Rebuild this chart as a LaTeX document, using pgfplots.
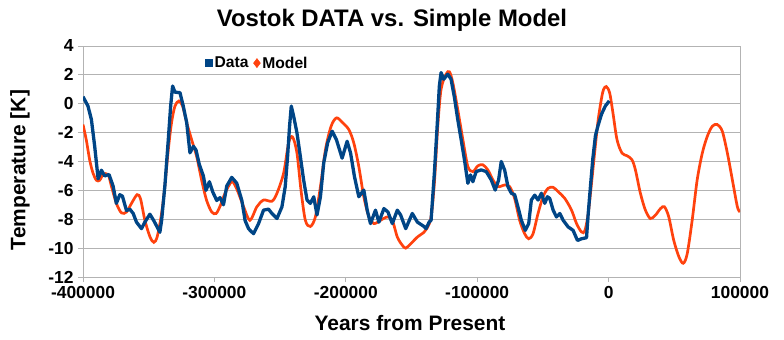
\documentclass[border=0pt]{standalone}
\usepackage{pgfplots}
\pgfplotsset{compat=1.18}
\usepackage{fontspec}
\setmainfont{Liberation Sans}
\definecolor{datablue}{HTML}{004586}
\definecolor{modelred}{HTML}{FF420E}
\definecolor{gridgray}{HTML}{B3B3B3}
\begin{document}
\begin{tikzpicture}
\useasboundingbox (0,0) rectangle (784bp,340bp);
\begin{axis}[
  at={(83bp,63bp)}, anchor=south west,
  width=657bp, height=231bp, scale only axis,
  xmin=-400000, xmax=100000, ymin=-12, ymax=4,
  xtick={-400000,-300000,...,100000},
  ytick={-12,-10,...,4},
  scaled ticks=false,
  /pgf/number format/assume math mode=true,
  /pgf/number format/1000 sep={},
  /pgf/number format/fixed,
  ymajorgrids, major grid style={gridgray, line width=0.8bp},
  axis line style={gridgray, line width=0.8bp},
  tick style={gridgray, line width=0.8bp},
  tick align=outside, major tick length=5bp,
  xtick pos=bottom, ytick pos=left,
  ticklabel style={font=\bfseries\fontsize{17.5}{18}\selectfont, text=black},
  xticklabel style={yshift=-1bp},
  yticklabel style={xshift=-1bp},
  legend style={draw=none, fill=none, at={(0.186,0.926)}, anchor=west,
    font=\bfseries\fontsize{15.7}{16}\selectfont, inner sep=0pt,
    /tikz/every even column/.append style={column sep=3bp}},
  legend columns=2,
  legend cell align=left,
]
\addlegendimage{only marks, mark=square*, mark size=3.6bp, color=datablue}
\addlegendentry{Data}
\addlegendimage{only marks, mark=diamond*, mark size=4.6bp, color=modelred}
\addlegendentry{Model}
\addplot[forget plot, smooth, tension=0.5, color=modelred, line width=2.7bp] coordinates {
(-400000,-1.44) (-397500,-2.5) (-394900,-3.9) (-392400,-4.8) (-389800,-5.3)
(-387300,-5.3) (-384700,-4.9) (-380900,-4.9) (-378400,-5.7) (-374600,-6.9)
(-370700,-7.56) (-366900,-7.5) (-363100,-6.9) (-358800,-6.3) (-356200,-6.6)
(-352900,-8.07) (-349100,-9.2) (-346100,-9.6) (-343500,-9.2) (-340200,-7.6)
(-337700,-5.7) (-335100,-3.2) (-332600,-1.3) (-330000,-0.16) (-327000,0.19)
(-324200,-0.16) (-321100,-1.3) (-317300,-2.5) (-313500,-3.65) (-309700,-5.3)
(-305900,-6.7) (-302000,-7.5) (-298700,-7.6) (-295700,-7.1) (-291900,-6.2)
(-286800,-5.4) (-283000,-5.9) (-277900,-7.1) (-273000,-8.07) (-267700,-7.14)
(-262600,-6.67) (-256200,-6.75) (-252400,-6.2) (-247300,-4.8) (-243500,-2.7)
(-240500,-2.3) (-237200,-3.4) (-234100,-5.98) (-230800,-8.07) (-227000,-8.5)
(-223200,-7.85) (-219300,-5.74) (-215500,-3.19) (-211200,-1.56) (-207100,-0.98)
(-202800,-1.28) (-197700,-1.79) (-193900,-2.72) (-190100,-4.35) (-186300,-6.44)
(-182400,-7.84) (-178600,-8.3) (-173500,-8.07) (-168400,-7.84) (-164600,-8.07)
(-160800,-9.23) (-157000,-9.8) (-154400,-10.0) (-150600,-9.7) (-145500,-9.23)
(-140500,-8.9) (-138000,-8.6) (-135100,-7.84) (-132600,-5.51) (-130000,-1.56)
(-127500,1.0) (-123700,2.05) (-121100,2.21) (-118600,1.47) (-114800,-0.4)
(-110900,-2.49) (-107100,-4.35) (-103300,-4.7) (-99500,-4.3) (-95700,-4.23)
(-91900,-4.58) (-88000,-5.28) (-84200,-5.74) (-79100,-5.63) (-75300,-5.74)
(-71500,-6.56) (-67700,-8.07) (-63900,-9.0) (-60800,-9.35) (-57500,-9.0)
(-53700,-7.6) (-49900,-6.44) (-46100,-5.86) (-42200,-5.79) (-38400,-6.09)
(-33300,-6.56) (-28200,-7.37) (-24400,-8.3) (-20600,-8.88) (-18100,-8.8)
(-15500,-7.6) (-13000,-5.51) (-10400,-3.19) (-7900,-1.09) (-5300,0.42)
(-3800,1.0) (-1800,1.19) (760,0.77) (3300,-0.63) (6400,-2.49)
(10200,-3.42) (14000,-3.6) (17800,-3.88) (20400,-4.58) (24200,-6.2)
(28000,-7.37) (31800,-7.95) (35600,-7.72) (39500,-7.26) (42500,-7.14)
(45800,-7.84) (49600,-9.47) (53500,-10.6) (56800,-11.05) (59800,-10.4)
(63600,-8.07) (67400,-5.28) (71300,-3.42) (75100,-2.26) (78900,-1.56)
(82700,-1.44) (86500,-1.9) (90400,-3.42) (94200,-5.28) (98000,-7.14)
(100000,-7.49)
};
\addplot[forget plot, color=datablue, line width=3.3bp, line join=round] coordinates {
(-400000,0.49) (-396200,-0.16) (-393600,-1.1) (-391100,-2.95) (-388500,-5.2)
(-386000,-4.6) (-383500,-5.0) (-380200,-4.9) (-377100,-5.7) (-374600,-6.9)
(-372000,-6.3) (-370000,-6.4) (-366900,-7.4) (-364400,-7.3) (-361800,-7.6)
(-359300,-8.2) (-355500,-8.65) (-352900,-8.2) (-349100,-7.65) (-346100,-8.1)
(-343500,-8.55) (-341500,-8.9) (-340200,-8.1) (-337700,-5.7) (-335100,-2.5)
(-333300,-0.16) (-331800,1.23) (-330000,0.8) (-326200,0.77) (-323700,-0.16)
(-321100,-1.3) (-318600,-3.4) (-316000,-2.95) (-314000,-3.2) (-311500,-4.2)
(-308400,-5.0) (-306400,-6.0) (-303800,-5.4) (-301300,-6.1) (-298200,-6.7)
(-295700,-6.5) (-293100,-7.0) (-290600,-5.7) (-286800,-5.1) (-283000,-5.5)
(-279100,-6.7) (-276600,-8.1) (-274000,-8.65) (-272800,-8.77) (-270200,-9.0)
(-266400,-8.3) (-262600,-7.37) (-258800,-7.3) (-256200,-7.6) (-252400,-7.95)
(-248600,-7.14) (-246100,-5.74) (-244300,-3.65) (-242800,-1.56) (-241500,-0.16)
(-239700,-0.86) (-237200,-2.0) (-234600,-3.65) (-232100,-5.28) (-229500,-6.67)
(-227000,-6.9) (-224400,-6.45) (-221900,-7.7) (-219300,-6.44) (-216800,-4.1)
(-213800,-2.7) (-210400,-1.9) (-207100,-2.5) (-202800,-3.77) (-199000,-2.6)
(-196400,-3.4) (-193400,-5.05) (-190100,-6.44) (-186300,-5.98) (-183700,-7.37)
(-181200,-8.3) (-177400,-7.37) (-174800,-8.2) (-171000,-7.26) (-167900,-7.5)
(-164600,-8.3) (-160800,-7.37) (-158300,-7.7) (-154400,-8.65) (-149400,-7.6)
(-145500,-8.2) (-140500,-8.5) (-138900,-8.65) (-136600,-8.2) (-135100,-8.07)
(-132600,-4.81) (-130500,-1.56) (-128800,1.23) (-127500,2.16) (-125500,1.7)
(-122400,2.05) (-119900,1.7) (-117300,0.42) (-114800,-1.09) (-112200,-2.49)
(-109700,-3.88) (-107100,-5.51) (-105100,-4.93) (-103300,-5.4) (-100800,-4.7)
(-97000,-4.58) (-93100,-4.7) (-89300,-5.28) (-86300,-5.98) (-83700,-5.28)
(-81700,-4.0) (-79100,-4.6) (-76600,-5.74) (-74000,-6.2) (-71500,-6.3)
(-69000,-7.14) (-66400,-8.07) (-63400,-8.77) (-60800,-8.3) (-58800,-6.67)
(-56200,-6.33) (-53700,-6.67) (-51100,-6.2) (-48600,-6.9) (-46600,-6.44)
(-44800,-6.56) (-42200,-7.37) (-39700,-7.84) (-37100,-7.6) (-34600,-8.07)
(-30800,-8.53) (-27000,-8.77) (-23700,-9.47) (-20600,-9.35) (-16800,-9.28)
(-15500,-7.6) (-13700,-5.6) (-12000,-3.8) (-10000,-2.2) (-8000,-1.5)
(-5300,-0.7) (-2500,-0.16) (500,0.2)
};
\end{axis}
\node[font=\bfseries\fontsize{24}{24}\selectfont] at (392bp,320bp) {Vostok DATA vs. Simple Model};
\node[font=\bfseries\fontsize{21}{21}\selectfont] at (410bp,17bp) {Years from Present};
\node[font=\bfseries\fontsize{21}{21}\selectfont, rotate=90] at (20bp,170bp) {Temperature [K]};
\end{tikzpicture}
\end{document}
